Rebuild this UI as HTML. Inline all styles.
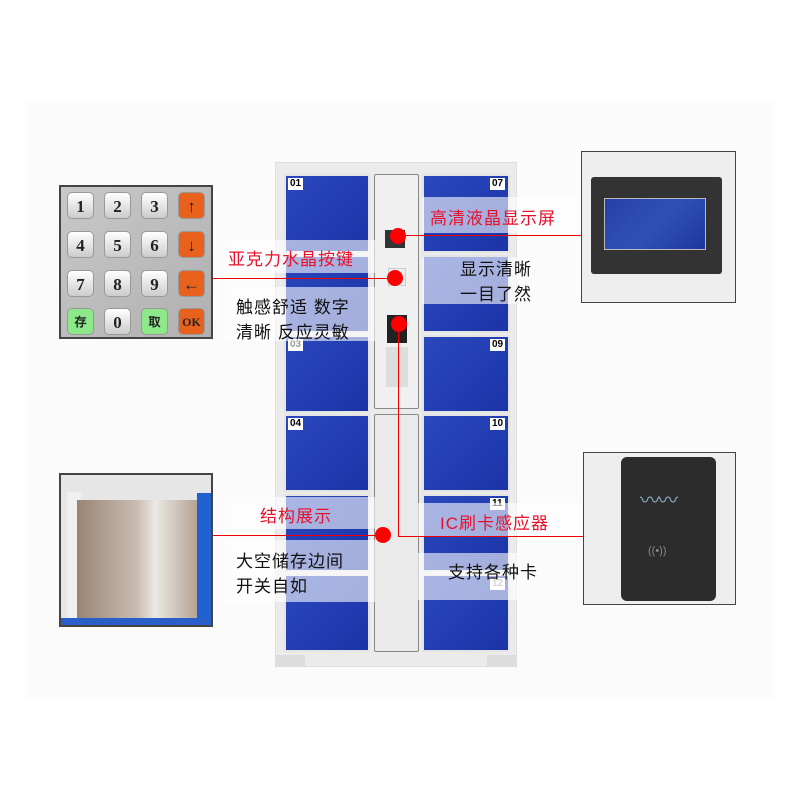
<!DOCTYPE html><html><head><meta charset="utf-8"><style>
body{margin:0;width:800px;height:800px;background:#fff;position:relative;overflow:hidden;font-family:"Liberation Sans","Noto Sans CJK SC",sans-serif}
div{position:absolute;box-sizing:border-box}
.d{background:linear-gradient(135deg,#2a48bc,#1a34a8);border:2px solid #e4e4e4}
.n{background:#fff;color:#000;font-size:10px;font-weight:bold;padding:0 2px;line-height:12px}
.k{width:27px;height:27px;border-radius:5px;background:linear-gradient(#fff,#ccc);border:1px solid #999;font:bold 17px "Liberation Serif",serif;text-align:center;line-height:27px;color:#222}
.o{background:#e8621e;color:#222}
.g{background:#8de88a;font-size:12px}
.b{background:rgba(255,255,255,0.6)}
.t{font-size:17px;color:#111;white-space:nowrap;letter-spacing:1px}
.r{color:#e8102a}
.dot{width:16px;height:16px;border-radius:50%;background:#f00}
.l{background:#e00}
</style></head><body>
<div style="left:25px;top:100px;width:750px;height:600px;background:#fbfbfb"></div>
<div style="left:275px;top:162px;width:242px;height:505px;background:#ebebeb;border:1px solid #ddd"></div>
<div style="left:275px;top:655px;width:30px;height:12px;background:#ddd"></div>
<div style="left:487px;top:655px;width:30px;height:12px;background:#ddd"></div>
<div class="d" style="left:284px;top:174px;width:86px;height:79px"></div><div class="n" style="left:288px;top:178px">01</div>
<div class="d" style="left:284px;top:255px;width:86px;height:78px"></div>
<div class="d" style="left:284px;top:335px;width:86px;height:78px"></div><div class="n" style="left:288px;top:339px;color:#999">03</div>
<div class="d" style="left:284px;top:414px;width:86px;height:78px"></div><div class="n" style="left:288px;top:418px">04</div>
<div class="d" style="left:284px;top:494px;width:86px;height:78px"></div>
<div class="d" style="left:284px;top:574px;width:86px;height:78px"></div>
<div class="d" style="left:422px;top:174px;width:88px;height:79px"></div><div class="n" style="left:490px;top:178px">07</div>
<div class="d" style="left:422px;top:255px;width:88px;height:78px"></div>
<div class="d" style="left:422px;top:335px;width:88px;height:78px"></div><div class="n" style="left:490px;top:339px">09</div>
<div class="d" style="left:422px;top:414px;width:88px;height:78px"></div><div class="n" style="left:490px;top:418px">10</div>
<div class="d" style="left:422px;top:494px;width:88px;height:78px"></div><div class="n" style="left:490px;top:498px">11</div>
<div class="d" style="left:422px;top:574px;width:88px;height:78px"></div><div class="n" style="left:490px;top:578px;color:#999">12</div>
<div style="left:374px;top:174px;width:45px;height:235px;background:#f0f0f0;border:1px solid #888;border-radius:2px"></div>
<div style="left:374px;top:414px;width:45px;height:238px;background:#eaeaea;border:1px solid #888;border-radius:2px"></div>
<div style="left:385px;top:230px;width:20px;height:18px;background:#333"></div>
<div style="left:388px;top:268px;width:18px;height:18px;background:#eee;border:1px solid #ccc"></div>
<div style="left:387px;top:315px;width:20px;height:28px;background:#222"></div>
<div style="left:386px;top:347px;width:22px;height:40px;background:#ddd"></div>
<div class="b" style="left:422px;top:197px;width:160px;height:36px"></div>
<div class="b" style="left:225px;top:240px;width:150px;height:33px"></div>
<div class="b" style="left:422px;top:257px;width:95px;height:47px"></div>
<div class="b" style="left:225px;top:287px;width:150px;height:54px"></div>
<div class="b" style="left:225px;top:497px;width:150px;height:32px"></div>
<div class="b" style="left:418px;top:503px;width:165px;height:33px"></div>
<div class="b" style="left:225px;top:540px;width:150px;height:62px"></div>
<div class="b" style="left:418px;top:553px;width:100px;height:47px"></div>
<div class="l" style="left:398px;top:235px;width:184px;height:1px"></div>
<div class="l" style="left:212px;top:278px;width:183px;height:1px"></div>
<div class="l" style="left:398px;top:324px;width:1px;height:213px"></div>
<div class="l" style="left:398px;top:536px;width:185px;height:1px"></div>
<div class="l" style="left:212px;top:535px;width:171px;height:1px"></div>
<div class="dot" style="left:390px;top:228px"></div>
<div class="dot" style="left:387px;top:270px"></div>
<div class="dot" style="left:391px;top:316px"></div>
<div class="dot" style="left:375px;top:527px"></div>
<div class="t r" style="left:430px;top:204px">高清液晶显示屏</div>
<div class="t r" style="left:228px;top:245px">亚克力水晶按键</div>
<div class="t" style="left:460px;top:255px">显示清晰</div>
<div class="t" style="left:460px;top:280px">一目了然</div>
<div class="t" style="left:236px;top:293px">触感舒适 数字</div>
<div class="t" style="left:236px;top:318px">清晰 反应灵敏</div>
<div class="t r" style="left:260px;top:502px">结构展示</div>
<div class="t r" style="left:440px;top:509px">IC刷卡感应器</div>
<div class="t" style="left:236px;top:547px">大空储存边间</div>
<div class="t" style="left:236px;top:572px">开关自如</div>
<div class="t" style="left:448px;top:558px">支持各种卡</div>
<div style="left:59px;top:185px;width:154px;height:154px;background:linear-gradient(135deg,#c8c8c8,#b0b0b0);border:2px solid #444"></div>
<div class="k" style="left:67px;top:192px">1</div><div class="k" style="left:104px;top:192px">2</div><div class="k" style="left:141px;top:192px">3</div><div class="k o" style="left:178px;top:192px">↑</div>
<div class="k" style="left:67px;top:231px">4</div><div class="k" style="left:104px;top:231px">5</div><div class="k" style="left:141px;top:231px">6</div><div class="k o" style="left:178px;top:231px">↓</div>
<div class="k" style="left:67px;top:270px">7</div><div class="k" style="left:104px;top:270px">8</div><div class="k" style="left:141px;top:270px">9</div><div class="k o" style="left:178px;top:270px">←</div>
<div class="k g" style="left:67px;top:308px">存</div><div class="k" style="left:104px;top:308px">0</div><div class="k g" style="left:141px;top:308px">取</div><div class="k o" style="left:178px;top:308px;font-size:12px">OK</div>
<div style="left:59px;top:473px;width:154px;height:154px;background:#e6e6e6;border:2px solid #444;overflow:hidden">
<div style="left:6px;top:17px;width:14px;height:130px;background:#f0f0f0"></div>
<div style="left:16px;top:25px;width:120px;height:120px;background:linear-gradient(90deg,#9a8474,#c8bcb0 50%,#ece8e4 65%,#b4a494)"></div>
<div style="left:136px;top:18px;width:20px;height:130px;background:#2060d0"></div>
<div style="left:0;top:143px;width:150px;height:10px;background:#2a5ec8"></div>
</div>
<div style="left:581px;top:151px;width:155px;height:152px;background:#eee;border:1px solid #444"></div>
<div style="left:591px;top:177px;width:131px;height:97px;background:#333;border-radius:3px"></div>
<div style="left:604px;top:198px;width:102px;height:52px;background:linear-gradient(135deg,#2440a8,#3050b8,#1c38a0);border:1px solid #bbb"></div>
<div style="left:583px;top:452px;width:153px;height:153px;background:#eee;border:1px solid #444"></div>
<div style="left:621px;top:457px;width:95px;height:144px;background:#2c2c2c;border-radius:6px"></div>
<div style="left:640px;top:484px;font-size:20px;color:#8ab;letter-spacing:-2px">〰〰</div>
<div style="left:648px;top:545px;font-size:11px;color:#888">((•))</div>
</body></html>
